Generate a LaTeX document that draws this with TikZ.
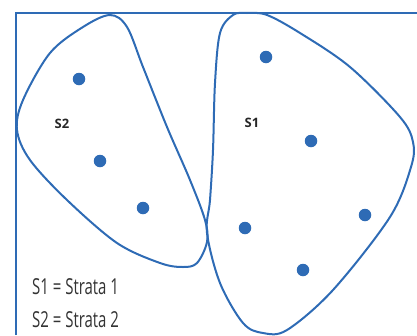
\documentclass[tikz,border=0pt]{standalone}
\usepackage{fontspec}
\setmainfont{Open Sans}
\newfontfamily\condfont[FakeStretch=0.68]{Open Sans}
\begin{document}
\begin{tikzpicture}[x=1pt,y=-1pt,
  blue line/.style={draw=bl, line width=2pt},
  dot/.style={circle, fill=bl, inner sep=0pt, minimum size=12.5pt},
  slabel/.style={font=\bfseries\fontsize{13}{14}\selectfont, text=black!85, anchor=base, inner sep=0pt},
  legend/.style={font=\condfont\fontsize{22}{24}\selectfont, text=black!80, anchor=base west, inner sep=0pt}]
\definecolor{bl}{HTML}{2E6BB5}
\useasboundingbox (0,0) rectangle (417,335);
% frame
\coordinate (fb) at (16,335);
\coordinate (ftl) at (16,13);
\coordinate (ftr) at (417,13);
\draw[blue line, line width=1.6pt] (fb) -- (ftl) -- (ftr);
% stratum 2
\draw[blue line] plot[smooth cycle, tension=0.55] coordinates {
 (110,15) (127,27) (143,67) (167,127) (190,180) (205,220) (207,242) (197,263)
 (183,267) (160,263) (117,243) (67,200) (30,160) (17,130) (23,100) (50,53) (83,27)};
% stratum 1
\draw[blue line] plot[smooth cycle, tension=0.55] coordinates {
 (247,13) (267,15) (300,33) (350,67) (400,117) (413,142) (411,167) (390,217)
 (333,290) (287,330) (263,333) (243,323) (220,283) (207,233) (210,200) (213,150)
 (215,83) (220,33) (233,15)};
% dots
\node[dot] (a1) at (79,79) {};
\node[dot] (a2) at (100,161) {};
\node[dot] (a3) at (143,208) {};
\node[dot] (b1) at (266,57) {};
\node[dot] (b2) at (311,141) {};
\node[dot] (b3) at (365,215) {};
\node[dot] (b4) at (245,228) {};
\node[dot] (b5) at (303,270) {};
% labels
\node[slabel] (s2) at (62,128) {S2};
\node[slabel] (s1) at (252,127) {S1};
\node[legend] (l1) at (32,294) {S1 = Strata 1};
\node[legend] (l2) at (32,327) {S2 = Strata 2};
\end{tikzpicture}
\end{document}
